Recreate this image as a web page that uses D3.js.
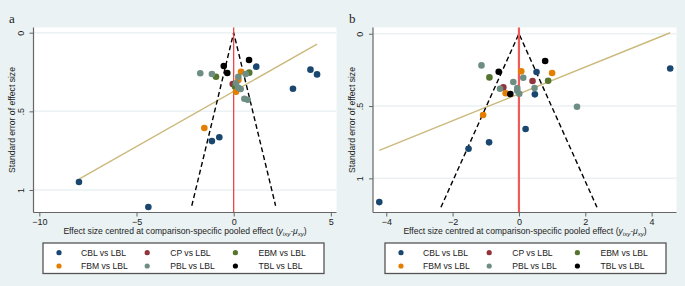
<!DOCTYPE html>
<html>
<head>
<meta charset="utf-8">
<script src="https://cdn.jsdelivr.net/npm/d3@7"></script>
<style>
  body { margin: 0; background: #eaf2f3; }
  text { font-family: "Liberation Sans", Arial, sans-serif; fill: #222; }
</style>
</head>
<body>
<div id="chart"></div>
<script>
// comparison groups and their colours (Stata s2color)
var groups = ["CBL vs LBL", "CP vs LBL", "EBM vs LBL", "FBM vs LBL", "PBL vs LBL", "TBL vs LBL"];
var groupColors = ["#1a476f", "#90353b", "#55752f", "#e37e00", "#6e8e84", "#000000"];

// panel a: [group index, effect centred, standard error]
var aPoints = [
    [0, -7.96, 0.949], [0, -4.39, 1.108], [0, -1.12, 0.689], [0, -0.74, 0.665],
    [0, 1.16, 0.216], [0, 3.05, 0.356], [0, 3.95, 0.235], [0, 4.29, 0.265],
    [1, -0.05, 0.326],
    [2, -0.91, 0.280], [2, 0.80, 0.254], [2, 0.07, 0.343],
    [3, 0.38, 0.248], [3, 0.24, 0.300], [3, 0.12, 0.375], [3, -1.51, 0.606],
    [4, -1.72, 0.258], [4, -1.12, 0.263], [4, 0.24, 0.280], [4, 0.62, 0.263], [4, 0.12, 0.322],
    [4, 0.24, 0.350], [4, 0.36, 0.358], [4, 0.55, 0.420], [4, 0.72, 0.426],
    [5, -0.51, 0.212], [5, -0.33, 0.256], [5, 0.79, 0.174]
];
var aFit = {intercept: 0.373, slope: -0.070};
var aFunnelMax = 1.1;
var aXTicks = [-10, -5, 0, 5];

// panel b
var bPoints = [
    [0, -4.21, 1.164], [0, -1.52, 0.795], [0, -0.90, 0.751], [0, 0.20, 0.659],
    [0, 0.53, 0.265], [0, 0.48, 0.419], [0, 4.56, 0.240],
    [1, -0.47, 0.371], [1, 0.41, 0.327],
    [2, -0.89, 0.302], [2, 0.88, 0.325],
    [3, -1.08, 0.562], [3, -0.40, 0.412], [3, 0.07, 0.260], [3, 1.00, 0.272],
    [4, -1.13, 0.219], [4, -0.57, 0.380], [4, -0.17, 0.334], [4, -0.05, 0.376], [4, -0.05, 0.394],
    [4, 0.01, 0.415], [4, 0.13, 0.304], [4, 0.47, 0.376], [4, 1.75, 0.505],
    [5, -0.61, 0.263], [5, -0.26, 0.417], [5, 0.79, 0.189]
];
var bFit = {intercept: 0.416, slope: -0.0927};
var bFunnelMax = 1.2;
var bXTicks = [-4, -2, 0, 2, 4];

var yTicks = [0, 0.5, 1];
var yTickLabels = ["0", ".5", "1"];

var svg = d3.select("#chart")
    .append("svg")
    .attr("width", 685)
    .attr("height", 286);

svg.append("rect")
    .attr("width", 685)
    .attr("height", 286)
    .attr("fill", "#eaf2f3");

drawPanel({
    letter: "a", ox: 0, left: 33.5, right: 336.5,
    xDomain: [-10.3, 5.29], yDomain: [-0.033, 1.143],
    points: aPoints, fit: aFit, funnelMax: aFunnelMax, xTicks: aXTicks,
    redWidth: 1.2, redColor: "#e8383b", legendX: 43
});

drawPanel({
    letter: "b", ox: 340, left: 373, right: 676.5,
    xDomain: [-4.4, 4.75], yDomain: [-0.043, 1.236],
    points: bPoints, fit: bFit, funnelMax: bFunnelMax, xTicks: bXTicks,
    redWidth: 2.2, redColor: "#f05a5a", legendX: 385
});

function drawPanel(p) {
    var top = 27.5, bottom = 212.5;

    var x = d3.scaleLinear().domain(p.xDomain).range([p.left, p.right]);
    var y = d3.scaleLinear().domain(p.yDomain).range([top, bottom]);

    var g = svg.append("g");

    // plot region
    g.append("rect")
        .attr("x", p.left)
        .attr("y", top)
        .attr("width", p.right - p.left)
        .attr("height", bottom - top)
        .attr("fill", "white");

    // gridlines
    g.selectAll(".grid")
        .data(yTicks)
        .enter().append("line")
        .attr("x1", p.left)
        .attr("x2", p.right)
        .attr("y1", function (d) { return y(d); })
        .attr("y2", function (d) { return y(d); })
        .attr("stroke", "#eaf2f3")
        .attr("stroke-width", 1.5);

    // regression line over the range of the data
    var ext = d3.extent(p.points, function (d) { return d[1]; });
    g.append("line")
        .attr("x1", x(ext[0]))
        .attr("y1", y(p.fit.intercept + p.fit.slope * ext[0]))
        .attr("x2", x(ext[1]))
        .attr("y2", y(p.fit.intercept + p.fit.slope * ext[1]))
        .attr("stroke", "#cbb97c")
        .attr("stroke-width", 1.4);

    // pseudo 95% confidence funnel
    var funnel = [[-1.96 * p.funnelMax, p.funnelMax], [0, 0], [1.96 * p.funnelMax, p.funnelMax]];
    g.append("path")
        .attr("d", d3.line().x(function (d) { return x(d[0]); }).y(function (d) { return y(d[1]); })(funnel))
        .attr("fill", "none")
        .attr("stroke", "black")
        .attr("stroke-width", 1.4)
        .attr("stroke-dasharray", "5,3");

    // reference line at zero
    g.append("line")
        .attr("x1", x(0))
        .attr("x2", x(0))
        .attr("y1", top)
        .attr("y2", bottom)
        .attr("stroke", p.redColor)
        .attr("stroke-width", p.redWidth);

    g.selectAll(".dot")
        .data(p.points)
        .enter().append("circle")
        .attr("cx", function (d) { return x(d[1]); })
        .attr("cy", function (d) { return y(d[2]); })
        .attr("r", 3.3)
        .attr("fill", function (d) { return groupColors[d[0]]; });

    // axes
    var yAxis = g.append("g")
        .attr("transform", "translate(" + p.left + ",0)")
        .call(d3.axisLeft(y).tickValues(yTicks).tickSize(4).tickPadding(3)
            .tickFormat(function (d, i) { return yTickLabels[i]; }));
    yAxis.select(".domain").attr("stroke", "#666").attr("stroke-width", 1.2)
        .attr("d", "M0," + top + "V" + bottom);
    yAxis.selectAll(".tick line").attr("stroke", "#666");
    yAxis.selectAll(".tick text")
        .style("font-size", "9px")
        .attr("fill", "#222")
        .attr("text-anchor", "middle")
        .attr("x", null)
        .attr("dy", null)
        .attr("transform", "translate(-10,0) rotate(-90)")
        .attr("y", 0);

    var xAxis = g.append("g")
        .attr("transform", "translate(0," + bottom + ")")
        .call(d3.axisBottom(x).tickValues(p.xTicks).tickSize(4).tickPadding(2).tickFormat(d3.format("d")));
    xAxis.select(".domain").attr("stroke", "#666").attr("stroke-width", 1.2)
        .attr("d", "M" + p.left + ",0H" + p.right);
    xAxis.selectAll(".tick line").attr("stroke", "#666");
    xAxis.selectAll(".tick text").style("font-size", "9px").attr("fill", "#222");

    // axis titles
    g.append("text")
        .attr("transform", "translate(" + (p.ox + 15) + "," + ((top + bottom) / 2) + ") rotate(-90)")
        .attr("text-anchor", "middle")
        .style("font-size", "8.6px")
        .text("Standard error of effect size");

    var xt = g.append("text")
        .attr("x", p.ox + 185)
        .attr("y", 234)
        .attr("text-anchor", "middle")
        .style("font-size", "8.6px");
    xt.append("tspan").text("Effect size centred at comparison-specific pooled effect (");
    xt.append("tspan").style("font-style", "italic").text("y");
    xt.append("tspan").style("font-style", "italic").style("font-size", "6px").attr("dy", 2).text("ixy");
    xt.append("tspan").style("font-style", "italic").attr("dy", -2).text("-μ");
    xt.append("tspan").style("font-style", "italic").style("font-size", "6px").attr("dy", 2).text("xy");
    xt.append("tspan").attr("dy", -2).text(")");

    // panel letter
    g.append("text")
        .attr("x", p.ox + 9)
        .attr("y", 23)
        .style("font-family", "'Liberation Serif', serif")
        .style("font-size", "13px")
        .text(p.letter);

    // legend
    var lg = g.append("g").attr("transform", "translate(" + p.legendX + ",243)");
    lg.append("rect")
        .attr("width", 281)
        .attr("height", 30.5)
        .attr("fill", "white")
        .attr("stroke", "#555")
        .attr("stroke-width", 1.3);

    var item = lg.selectAll(".item")
        .data(groups)
        .enter().append("g")
        .attr("transform", function (d, i) {
            return "translate(" + (16 + (i % 3) * 88.2) + "," + (i < 3 ? 9.7 : 23) + ")";
        });
    item.append("circle")
        .attr("r", 2.6)
        .attr("fill", function (d, i) { return groupColors[i]; });
    item.append("text")
        .attr("x", function (d, i) { return i % 3 === 0 ? 22 : 23; })
        .attr("dy", "0.35em")
        .style("font-size", "8.6px")
        .text(function (d) { return d; });
}
</script>
</body>
</html>
